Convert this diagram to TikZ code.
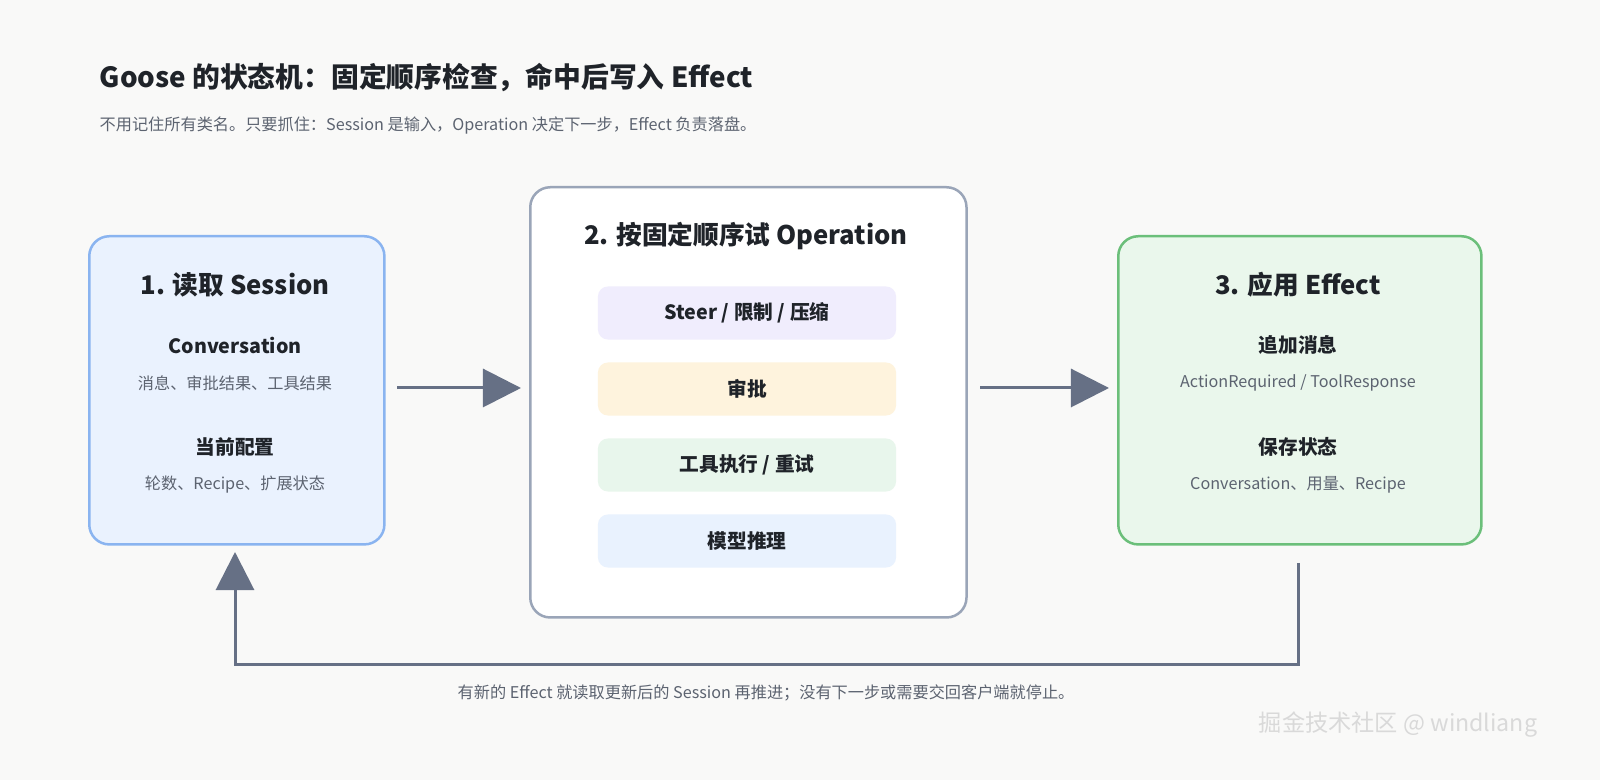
\documentclass[tikz,border=0pt]{standalone}
\usepackage{fontspec}
\setmainfont{Noto Sans CJK SC}
\usepackage{tikz}
\usetikzlibrary{arrows.meta,positioning,calc}

\definecolor{bgc}{HTML}{F9F9F8}
\definecolor{ink}{HTML}{1F2329}
\definecolor{sub}{HTML}{5C6370}
\definecolor{flow}{HTML}{667085}
\definecolor{blueF}{HTML}{EAF2FE}
\definecolor{blueD}{HTML}{8AB4F0}
\definecolor{greenF}{HTML}{EAF7EC}
\definecolor{greenD}{HTML}{6BBF7A}
\definecolor{grayD}{HTML}{9AA5B8}
\definecolor{pillP}{HTML}{F0EDFD}
\definecolor{pillO}{HTML}{FEF3DD}
\definecolor{pillG}{HTML}{E8F6EC}
\definecolor{pillB}{HTML}{E9F2FE}

\begin{document}
\begin{tikzpicture}[
    x=0.01cm, y=-0.01cm,
    stage/.style={rectangle, draw, line width=0.025cm, rounded corners=0.2cm, anchor=north west},
    pill/.style={rectangle, rounded corners=0.1cm, minimum width=2.98cm, minimum height=0.53cm, font=\fontsize{5.6}{6}\selectfont\bfseries, text=ink},
    head/.style={font=\fontsize{7.3}{8}\selectfont\bfseries, text=ink},
    item/.style={font=\fontsize{5.6}{6}\selectfont\bfseries, text=ink},
    note/.style={font=\fontsize{4.6}{5}\selectfont, text=sub},
    dataflow/.style={-{Triangle[length=0.38cm,width=0.38cm]}, line width=0.03cm, draw=flow}
]
\fill[bgc] (0,0) rectangle (1600,780);

% title
\node[anchor=west, inner sep=0pt, font=\fontsize{7.9}{9}\selectfont\bfseries, text=ink] (title) at (99,78) {Goose 的状态机：固定顺序检查，命中后写入 Effect};
\node[anchor=west, inner sep=0pt, note] (subtitle) at (99,125) {不用记住所有类名。只要抓住：Session 是输入，Operation 决定下一步，Effect 负责落盘。};

% stage 1
\node[stage, fill=blueF, draw=blueD, minimum width=2.95cm, minimum height=3.08cm] (read) at (88,235) {};
\node[head] (readT) at (235,285) {1. 读取 Session};
\node[item] (conv) at (235,345) {Conversation};
\node[note] (convN) at (235,383) {消息、审批结果、工具结果};
\node[item] (cfg) at (235,447) {当前配置};
\node[note] (cfgN) at (235,485) {轮数、Recipe、扩展状态};

% stage 2
\node[stage, fill=white, draw=grayD, minimum width=4.36cm, minimum height=4.30cm] (ops) at (529,186) {};
\node[head] (opsT) at (746,236) {2. 按固定顺序试 Operation};
\node[pill, fill=pillP] (steer) at (747,313) {Steer / 限制 / 压缩};
\node[pill, fill=pillO] (approve) at (747,389) {审批};
\node[pill, fill=pillG] (tool) at (747,465) {工具执行 / 重试};
\node[pill, fill=pillB] (model) at (747,541) {模型推理};

% stage 3
\node[stage, fill=greenF, draw=greenD, minimum width=3.63cm, minimum height=3.08cm] (apply) at (1117,235) {};
\node[head] (applyT) at (1298,285) {3. 应用 Effect};
\node[item] (add) at (1298,345) {追加消息};
\node[note] (addN) at (1298,383) {ActionRequired / ToolResponse};
\node[item] (save) at (1298,447) {保存状态};
\node[note] (saveN) at (1298,485) {Conversation、用量、Recipe};

% flow
\coordinate (a1) at (397,388);
\coordinate (a2) at (521,388);
\coordinate (b1) at (980,388);
\coordinate (b2) at (1109,388);
\draw[dataflow] (a1) -- (a2);
\draw[dataflow] (b1) -- (b2);
\coordinate (l1) at (1298,563);
\coordinate (l2) at (235,552);
\draw[dataflow] (l1) |- (235,665) -- (l2);
\node[note] (loopN) at (766,693) {有新的 Effect 就读取更新后的 Session 再推进；没有下一步或需要交回客户端就停止。};

\node[font=\fontsize{6.6}{7}\selectfont, text=white!70!gray] (mark) at (1398,725) {掘金技术社区 @ windliang};
\end{tikzpicture}
\end{document}
